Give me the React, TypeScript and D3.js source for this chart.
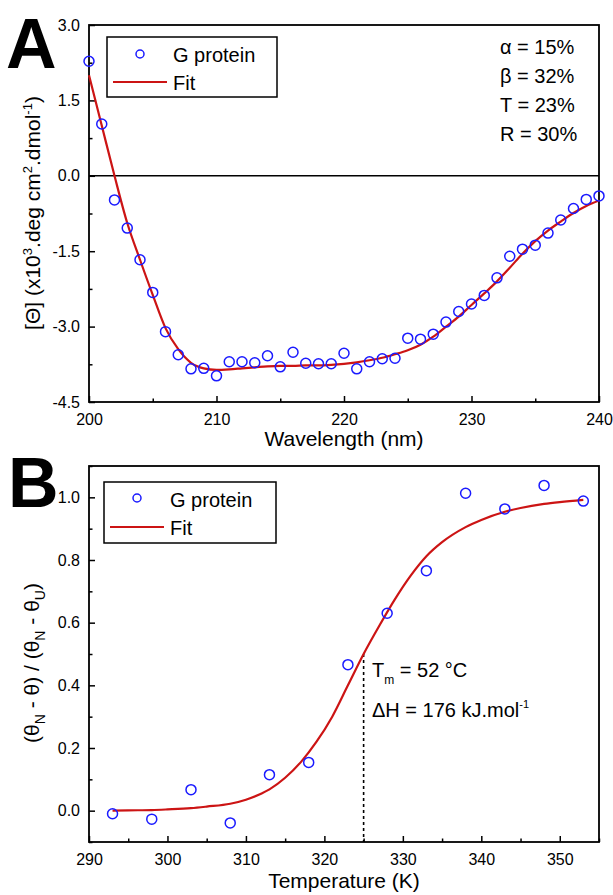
import React, { useEffect, useRef } from 'react';
import * as d3 from 'd3';

// Panel A: CD spectrum
const wavelengths = d3.range(200, 241);
const cdValues = [
  2.28, 1.03, -0.48, -1.04, -1.67, -2.32, -3.10, -3.56, -3.84, -3.83,
  -3.98, -3.70, -3.70, -3.72, -3.58, -3.80, -3.51, -3.73, -3.74, -3.74,
  -3.53, -3.84, -3.70, -3.64, -3.63, -3.23, -3.25, -3.15, -2.91, -2.70,
  -2.55, -2.38, -2.03, -1.60, -1.46, -1.38, -1.14, -0.88, -0.65, -0.47,
  -0.40
];
const cdFit = [
  2.0, 1.0, 0.0, -0.94, -1.67, -2.37, -3.03, -3.45, -3.72, -3.83,
  -3.86, -3.85, -3.83, -3.81, -3.79, -3.78, -3.78, -3.77, -3.77, -3.76,
  -3.74, -3.71, -3.67, -3.62, -3.55, -3.47, -3.36, -3.20, -3.00, -2.80,
  -2.57, -2.34, -2.10, -1.83, -1.55, -1.30, -1.09, -0.91, -0.74, -0.60,
  -0.49
];
const aYTicks = [3.0, 1.5, 0.0, -1.5, -3.0, -4.5];
const aYMinor = [2.25, 0.75, -0.75, -2.25, -3.75];
const aXTicks = [200, 210, 220, 230, 240];
const aXMinor = [205, 215, 225, 235];
const aNotes = ['α = 15%', 'β = 32%', 'T = 23%', 'R = 30%'];

// Panel B: thermal unfolding
const temps = [293, 298, 303, 308, 313, 318, 323, 328, 333, 338, 343, 348, 353];
const fracValues = [-0.01, -0.027, 0.067, -0.039, 0.115, 0.154, 0.466, 0.63, 0.766, 1.013, 0.963, 1.038, 0.988];
const fitTemps = [293, 295, 298, 300, 303, 305, 308, 310, 312, 313, 315, 317, 319, 321, 323, 325, 327, 329, 331, 333, 335, 338, 340, 343, 345, 348, 350, 353];
const fitValues = [0.0, 0.001, 0.002, 0.004, 0.008, 0.013, 0.022, 0.035, 0.055, 0.068, 0.105, 0.155, 0.22, 0.30, 0.40, 0.50, 0.59, 0.675, 0.75, 0.812, 0.857, 0.905, 0.928, 0.954, 0.966, 0.979, 0.985, 0.992];
const bYTicks = [0.0, 0.2, 0.4, 0.6, 0.8, 1.0];
const bYMinor = [-0.1, 0.1, 0.3, 0.5, 0.7, 0.9, 1.1];
const bXTicks = [290, 300, 310, 320, 330, 340, 350];
const bXMinor = [295, 305, 315, 325, 335, 345, 355];
const tm = 325;

const FONT = "Arial, 'Liberation Sans', sans-serif";
const BLUE = '#1a1aff';
const RED = '#cc1414';

const App = () => {
  const ref = useRef<SVGSVGElement>(null);

  useEffect(() => {
    const svg = d3.select(ref.current);
    svg.selectAll('*').remove();
    svg.attr('font-family', FONT);

    const left = 89, right = 599;

    const drawAxes = (g, x, y, yt, ym, xt, xm, top, bottom, fmtY) => {
      g.append('g')
        .attr('transform', `translate(${left},0)`)
        .call(d3.axisLeft(y).tickValues(yt).tickSize(-6).tickSizeOuter(0).tickPadding(9).tickFormat(fmtY))
        .call(a => a.select('.domain').remove())
        .call(a => a.selectAll('text').attr('font-size', 16).attr('font-family', FONT).attr('fill', '#000'))
        .call(a => a.selectAll('line').attr('stroke-width', 1.5));
      g.append('g')
        .attr('transform', `translate(${left},0)`)
        .call(d3.axisLeft(y).tickValues(ym).tickSize(-3.5).tickSizeOuter(0).tickFormat(() => ''))
        .call(a => a.select('.domain').remove())
        .call(a => a.selectAll('line').attr('stroke-width', 1.5));
      g.append('g')
        .attr('transform', `translate(0,${bottom})`)
        .call(d3.axisBottom(x).tickValues(xt).tickSize(-6).tickSizeOuter(0).tickPadding(11.5).tickFormat(d3.format('d')))
        .call(a => a.select('.domain').remove())
        .call(a => a.selectAll('text').attr('font-size', 16).attr('font-family', FONT).attr('fill', '#000'))
        .call(a => a.selectAll('line').attr('stroke-width', 1.5));
      g.append('g')
        .attr('transform', `translate(0,${bottom})`)
        .call(d3.axisBottom(x).tickValues(xm).tickSize(-3.5).tickSizeOuter(0).tickFormat(() => ''))
        .call(a => a.select('.domain').remove())
        .call(a => a.selectAll('line').attr('stroke-width', 1.5));
      g.append('rect')
        .attr('x', left).attr('y', top)
        .attr('width', right - left).attr('height', bottom - top)
        .attr('fill', 'none').attr('stroke', '#000').attr('stroke-width', 1.8);
    };

    const legend = (g, bx, by, bw, bh, cy, ly, t1, t2) => {
      g.append('rect').attr('x', bx).attr('y', by).attr('width', bw).attr('height', bh)
        .attr('fill', '#fff').attr('stroke', '#000').attr('stroke-width', 1.5);
      g.append('circle').attr('cx', bx + 33).attr('cy', cy).attr('r', 4)
        .attr('fill', 'none').attr('stroke', BLUE).attr('stroke-width', 1.5);
      g.append('line').attr('x1', bx + 6).attr('x2', bx + 60).attr('y1', ly).attr('y2', ly)
        .attr('stroke', RED).attr('stroke-width', 2);
      g.append('text').attr('x', bx + 66).attr('y', t1).attr('font-size', 20).text('G protein');
      g.append('text').attr('x', bx + 66).attr('y', t2).attr('font-size', 20).text('Fit');
    };

    const hyph = (f) => (d) => f(d).replace('−', '-');

    // ---------- Panel A ----------
    const aTop = 25, aBottom = 402;
    const xA = d3.scaleLinear().domain([200, 240]).range([left, right]);
    const yA = d3.scaleLinear().domain([-4.5, 3.0]).range([aBottom, aTop]);
    const gA = svg.append('g');

    gA.append('line')
      .attr('x1', left).attr('x2', right).attr('y1', yA(0)).attr('y2', yA(0))
      .attr('stroke', '#000').attr('stroke-width', 1.5);

    drawAxes(gA, xA, yA, aYTicks, aYMinor, aXTicks, aXMinor, aTop, aBottom, hyph(d3.format('.1f')));

    gA.append('path')
      .datum(wavelengths.map((w, i) => [w, cdFit[i]]))
      .attr('fill', 'none').attr('stroke', RED).attr('stroke-width', 2.2)
      .attr('d', d3.line().x(d => xA(d[0])).y(d => yA(d[1])).curve(d3.curveMonotoneX));

    gA.append('g').selectAll('circle')
      .data(wavelengths.map((w, i) => [w, cdValues[i]]))
      .join('circle')
      .attr('cx', d => xA(d[0])).attr('cy', d => yA(d[1])).attr('r', 5)
      .attr('fill', 'none').attr('stroke', BLUE).attr('stroke-width', 1.5);

    legend(gA, 107, 37, 170, 60, 54, 82, 61.7, 90);

    gA.append('g').selectAll('text')
      .data(aNotes).join('text')
      .attr('x', 500).attr('y', (d, i) => 53.5 + i * 29)
      .attr('font-size', 20).text(d => d);

    gA.append('text').attr('x', 6).attr('y', 68)
      .attr('font-size', 70).attr('font-weight', 'bold').text('A');

    gA.append('text').attr('x', 344).attr('y', 446)
      .attr('text-anchor', 'middle').attr('font-size', 21).text('Wavelength (nm)');

    const yla = gA.append('text')
      .attr('transform', 'translate(40,213) rotate(-90)')
      .attr('text-anchor', 'middle').attr('font-size', 21);
    yla.append('tspan').text('[Θ] (x10');
    yla.append('tspan').attr('dy', -8).attr('font-size', 13).text('3');
    yla.append('tspan').attr('dy', 8).text('.deg cm');
    yla.append('tspan').attr('dy', -8).attr('font-size', 13).text('2');
    yla.append('tspan').attr('dy', 8).text('.dmol');
    yla.append('tspan').attr('dy', -8).attr('font-size', 13).text('-1');
    yla.append('tspan').attr('dy', 8).text(')');

    // ---------- Panel B ----------
    const bTop = 466, bBottom = 842;
    const xB = d3.scaleLinear().domain([290, 355]).range([left, right]);
    const yB = d3.scaleLinear().domain([-0.1, 1.1]).range([bBottom, bTop]);
    const gB = svg.append('g');

    drawAxes(gB, xB, yB, bYTicks, bYMinor, bXTicks, bXMinor, bTop, bBottom, hyph(d3.format('.1f')));

    gB.append('line')
      .attr('x1', xB(tm)).attr('x2', xB(tm)).attr('y1', yB(0.5)).attr('y2', bBottom)
      .attr('stroke', '#000').attr('stroke-width', 1.6).attr('stroke-dasharray', '3,3');

    gB.append('path')
      .datum(fitTemps.map((t, i) => [t, fitValues[i]]))
      .attr('fill', 'none').attr('stroke', RED).attr('stroke-width', 2.2)
      .attr('d', d3.line().x(d => xB(d[0])).y(d => yB(d[1])).curve(d3.curveMonotoneX));

    gB.append('g').selectAll('circle')
      .data(temps.map((t, i) => [t, fracValues[i]]))
      .join('circle')
      .attr('cx', d => xB(d[0])).attr('cy', d => yB(d[1])).attr('r', 5)
      .attr('fill', 'none').attr('stroke', BLUE).attr('stroke-width', 1.5);

    legend(gB, 104, 482, 172, 61, 498, 527, 506.7, 535);

    const tmT = gB.append('text').attr('x', 372).attr('y', 677).attr('font-size', 20);
    tmT.append('tspan').text('T');
    tmT.append('tspan').attr('dy', 7).attr('font-size', 12).text('m');
    tmT.append('tspan').attr('dy', -7).text(' = 52 °C');

    const dh = gB.append('text').attr('x', 372).attr('y', 717).attr('font-size', 20);
    dh.append('tspan').text('ΔH = 176 kJ.mol');
    dh.append('tspan').attr('dy', -9).attr('font-size', 11).text('-1');

    gB.append('text').attr('x', 8).attr('y', 507)
      .attr('font-size', 70).attr('font-weight', 'bold').text('B');

    gB.append('text').attr('x', 344).attr('y', 888)
      .attr('text-anchor', 'middle').attr('font-size', 21).text('Temperature (K)');

    const ylb = gB.append('text')
      .attr('transform', 'translate(39,663) rotate(-90)')
      .attr('text-anchor', 'middle').attr('font-size', 21);
    ylb.append('tspan').text('(θ');
    ylb.append('tspan').attr('dy', 6).attr('font-size', 14).text('N');
    ylb.append('tspan').attr('dy', -6).text(' - θ) / (θ');
    ylb.append('tspan').attr('dy', 6).attr('font-size', 14).text('N');
    ylb.append('tspan').attr('dy', -6).text(' - θ');
    ylb.append('tspan').attr('dy', 6).attr('font-size', 14).text('U');
    ylb.append('tspan').attr('dy', -6).text(')');
  }, []);

  return (
    <svg ref={ref} width={613} height={895}
      style={{ position: 'absolute', left: 0, top: 0, background: '#fff' }} />
  );
};

export default App;
